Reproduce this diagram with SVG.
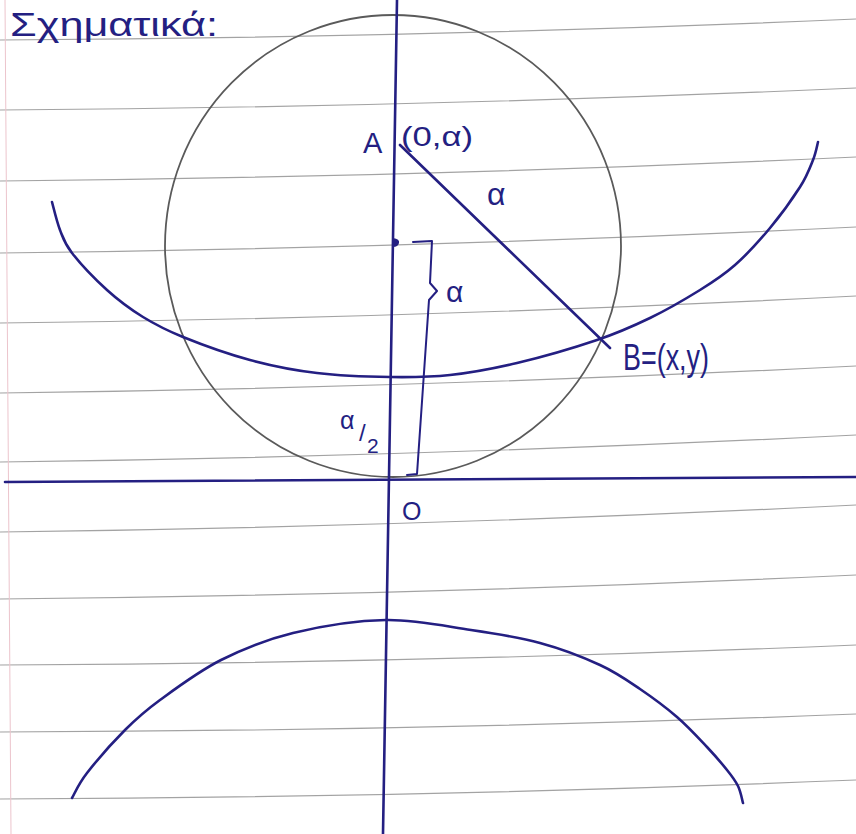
<svg xmlns="http://www.w3.org/2000/svg" width="856" height="834" viewBox="0 0 856 834">
<style>
.rule{fill:none;stroke:#a3a3a3;stroke-width:1.2}
.pen{fill:none;stroke:#241f82;stroke-width:2.6;stroke-linecap:round;stroke-linejoin:round}
.thin{fill:none;stroke:#241f82;stroke-width:2;stroke-linecap:round;stroke-linejoin:round}
.circ{fill:none;stroke:#5a5a5a;stroke-width:1.8}
.lbl{font-family:"Liberation Sans","DejaVu Sans",sans-serif;fill:#241f82}
</style>
<rect width="856" height="834" fill="#ffffff"/>
<g id="paper">
<path class="rule" d="M0,40 Q428,37.5 856,19"/>
<path class="rule" d="M0,110 Q428,107 856,88"/>
<path class="rule" d="M0,181 Q428,177 856,157"/>
<path class="rule" d="M0,253 Q428,248 856,227"/>
<path class="rule" d="M0,323 Q428,318 856,296"/>
<path class="rule" d="M0,393 Q428,387.5 856,366"/>
<path class="rule" d="M0,462 Q428,456.5 856,435"/>
<path class="rule" d="M0,532 Q428,526.5 856,505"/>
<path class="rule" d="M0,599 Q428,595 856,575"/>
<path class="rule" d="M0,665 Q428,663 856,645"/>
<path class="rule" d="M0,732 Q428,731 856,714"/>
<path class="rule" d="M0,799 Q428,797.5 856,780"/>
<line x1="5" y1="0" x2="11" y2="834" stroke="#ecc4cc" stroke-width="1"/>
</g>
<g id="title"><text class="lbl" x="10" y="36" font-size="34" textLength="208" lengthAdjust="spacingAndGlyphs">Σχηματικά:</text></g>
<g id="circle"><ellipse class="circ" cx="393" cy="246" rx="228" ry="231"/></g>
<g id="axes">
<line class="pen" x1="397" y1="0" x2="383" y2="834"/>
<line class="pen" x1="5" y1="482" x2="856" y2="477"/>
</g>
<g id="upper-curve">
<path class="pen" d="M52,202 C53.3,206.7 56.7,221.5 60,230 C63.3,238.5 64.2,243 72,253 C79.8,263 95.2,279.3 107,290 C118.8,300.7 130.3,309.2 143,317 C155.7,324.8 165.2,329.8 183,337 C200.8,344.2 227.7,354 250,360 C272.3,366 293.7,370.2 317,373 C340.3,375.8 367.8,376.7 390,377 C412.2,377.3 428.8,377.3 450,375 C471.2,372.7 492.5,368.8 517,363 C541.5,357.2 574.8,347.5 597,340 C619.2,332.5 632.8,326.3 650,318 C667.2,309.7 685.8,298.8 700,290 C714.2,281.2 723.3,275.3 735,265 C746.7,254.7 759.2,241 770,228 C780.8,215 792.8,198.3 800,187 C807.2,175.7 810,167.5 813,160 C816,152.5 817.2,145 818,142"/>
</g>
<g id="lower-curve">
<path class="pen" d="M72,798 C74.5,793.8 78.2,784.3 87,773 C95.8,761.7 112.8,742.2 125,730 C137.2,717.8 144,711.7 160,700 C176,688.3 198.8,671.2 221,660 C243.2,648.8 265.5,639.7 293,633 C320.5,626.3 356.3,620.5 386,620 C415.7,619.5 445.3,626.2 471,630 C496.7,633.8 518.5,637.2 540,643 C561.5,648.8 583.3,657.3 600,665 C616.7,672.7 627.2,680.3 640,689 C652.8,697.7 665.8,707.3 677,717 C688.2,726.7 698.7,738.2 707,747 C715.3,755.8 721.8,763.5 727,770 C732.2,776.5 735.3,780.5 738,786 C740.7,791.5 742.2,800.2 743,803"/>
</g>
<g id="connectors">
<line class="pen" x1="400" y1="145" x2="610" y2="348"/>
<path class="thin" d="M413,242 L432,241 L430,283 L437,291 L429,300 L417,474 L407,475"/>
<path d="M393,238 Q400,239 399,243 Q398,247 393,247 Z" fill="#241f82"/>
</g>
<g id="label-A"><text class="lbl" x="363" y="153" font-size="29">A</text></g>
<g id="label-A-coord"><text class="lbl" x="401" y="146" font-size="28" textLength="72" lengthAdjust="spacingAndGlyphs">(0,α)</text></g>
<g id="label-AB"><text class="lbl" x="487" y="205" font-size="32">α</text></g>
<g id="label-brace"><text class="lbl" x="446" y="302" font-size="30">α</text></g>
<g id="label-B"><text class="lbl" x="623" y="370" font-size="36" textLength="86" lengthAdjust="spacingAndGlyphs">B=(x,y)</text></g>
<g id="label-half">
<text class="lbl" x="340" y="429" font-size="25">α</text>
<text class="lbl" x="359" y="441" font-size="24">/</text>
<text class="lbl" x="367" y="453" font-size="21">2</text>
</g>
<g id="label-O"><text class="lbl" x="402" y="520" font-size="25">O</text></g>
</svg>
